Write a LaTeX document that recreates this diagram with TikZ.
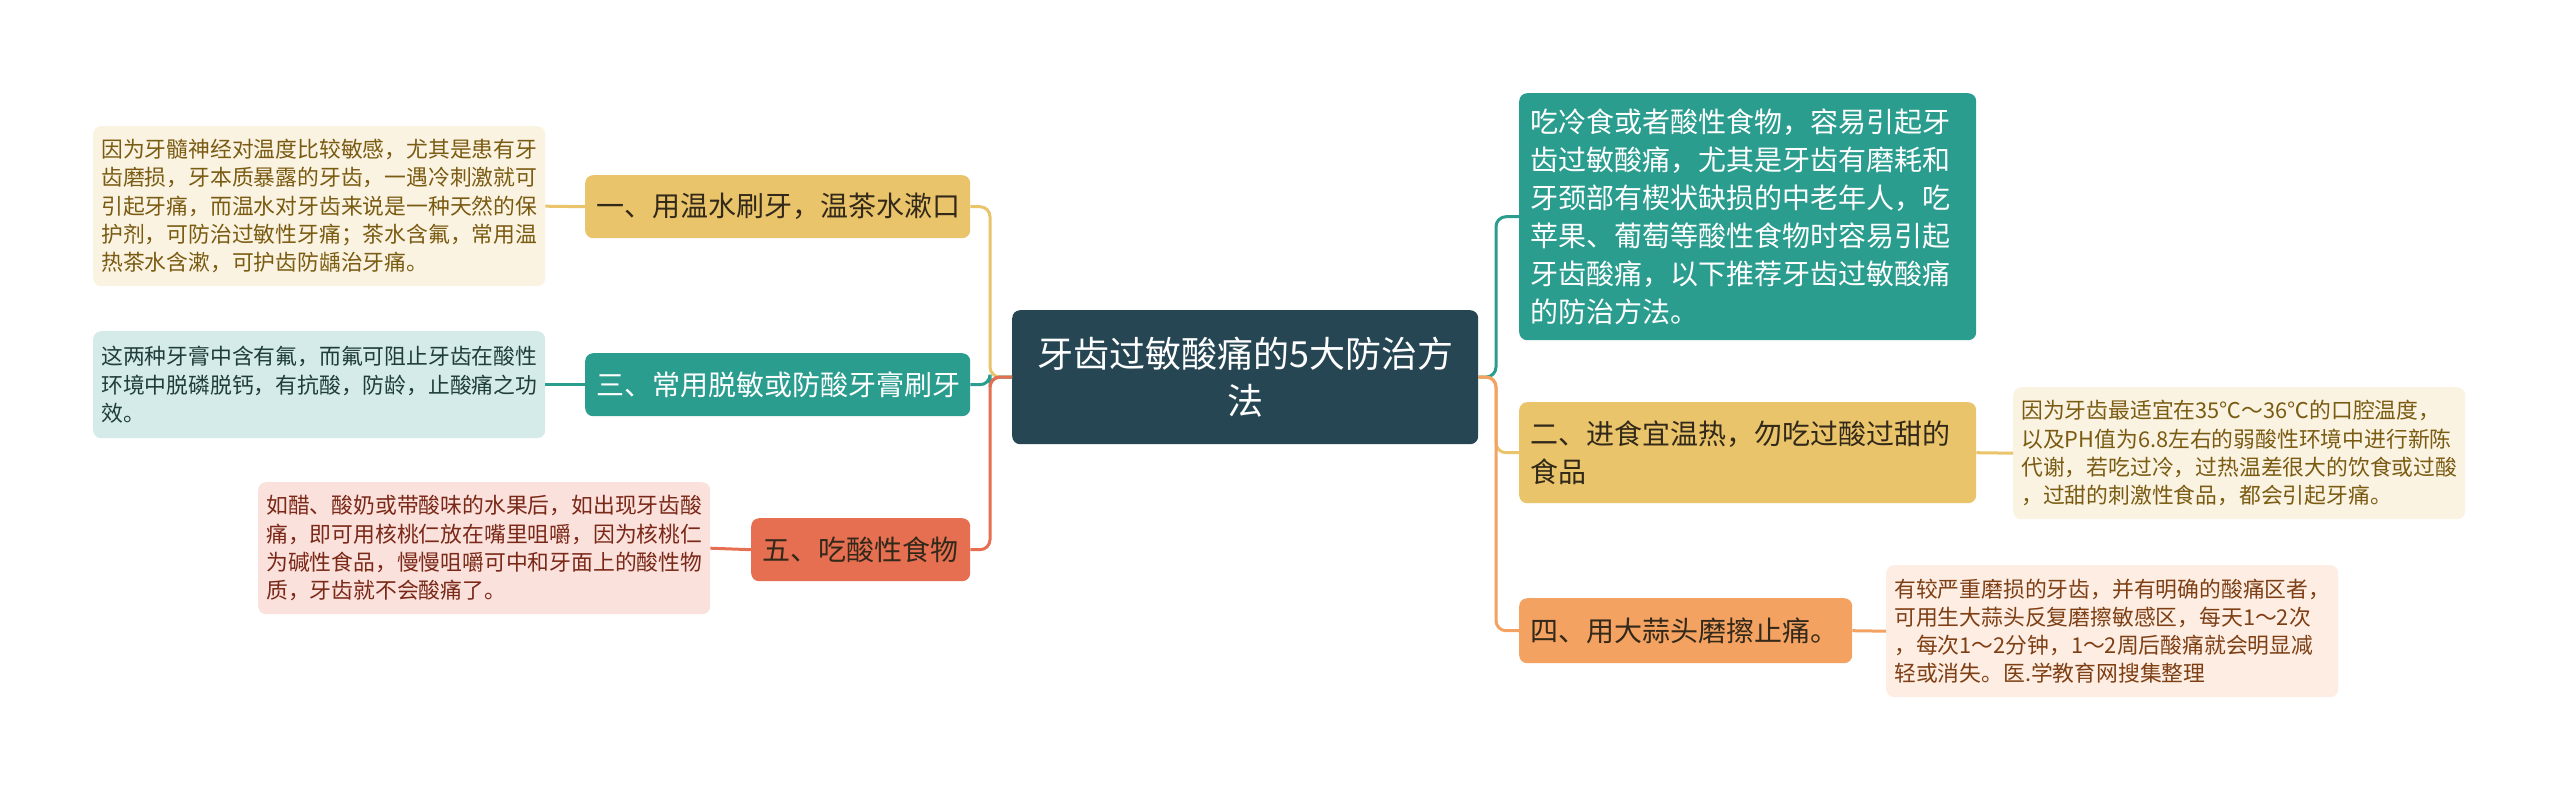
\documentclass[tikz,border=0pt]{standalone}
\usepackage{fontspec}
\setmainfont{Noto Sans CJK SC}
\definecolor{RootClr}{HTML}{264653}
\definecolor{TealClr}{HTML}{2A9D8F}
\definecolor{GoldClr}{HTML}{E9C46A}
\definecolor{OrangeClr}{HTML}{F4A261}
\definecolor{RedClr}{HTML}{E76F51}
\definecolor{GoldLeafClr}{HTML}{FBF3E2}
\definecolor{TealLeafClr}{HTML}{D5EBE9}
\definecolor{RedLeafClr}{HTML}{FAE1DC}
\definecolor{OrangeLeafClr}{HTML}{FDEDE2}
\definecolor{GoldTxtClr}{HTML}{7A5B12}
\definecolor{TealTxtClr}{HTML}{1F3D3A}
\definecolor{RedTxtClr}{HTML}{7A2818}
\definecolor{OrangeTxtClr}{HTML}{7E3F15}
\definecolor{DarkTxtClr}{HTML}{33291A}

\tikzset{
  topic/.style={rounded corners=8pt, anchor=north west, inner xsep=11pt, inner ysep=0pt, align=left, font=\fontsize{28}{38}\selectfont},
  leaf/.style={rounded corners=8pt, anchor=north west, inner xsep=8pt, inner ysep=0pt, align=left, text width=436pt, font=\fontsize{21.8}{28.3}\selectfont},
  link/.style={line width=3pt, rounded corners=10pt},
}

\begin{document}
\begin{tikzpicture}[x=1pt,y=-1pt]
\useasboundingbox[fill=white] (0,0) rectangle (2560,790);

\node[topic, fill=RootClr, text=white, align=center, inner xsep=20pt, text width=426pt, minimum height=134pt, font=\fontsize{36}{47}\selectfont] (root) at (1012,310) {牙齿过敏酸痛的5大防治方\\法};

\node[topic, fill=GoldClr, text=DarkTxtClr, text width=363pt, minimum height=63pt] (t1) at (585,175) {一、用温水刷牙，温茶水漱口};
\node[topic, fill=TealClr, text=white, text width=363pt, minimum height=63pt] (t3) at (585,353) {三、常用脱敏或防酸牙膏刷牙};
\node[topic, fill=RedClr, text=DarkTxtClr, text width=197pt, minimum height=63pt] (t5) at (751,518) {五、吃酸性食物};

\node[topic, fill=TealClr, text=white, text width=435pt, minimum height=247pt] (t0) at (1519,93) {吃冷食或者酸性食物，容易引起牙\\齿过敏酸痛，尤其是牙齿有磨耗和\\牙颈部有楔状缺损的中老年人，吃\\苹果、葡萄等酸性食物时容易引起\\牙齿酸痛，以下推荐牙齿过敏酸痛\\的防治方法。};
\node[topic, fill=GoldClr, text=DarkTxtClr, text width=435pt, minimum height=101pt] (t2) at (1519,402) {二、进食宜温热，勿吃过酸过甜的\\食品};
\node[topic, fill=OrangeClr, text=DarkTxtClr, text width=311pt, minimum height=65pt] (t4) at (1519,598) {四、用大蒜头磨擦止痛。};

\node[leaf, fill=GoldLeafClr, text=GoldTxtClr, minimum height=160pt] (d1) at (93,126) {因为牙髓神经对温度比较敏感，尤其是患有牙\\齿磨损，牙本质暴露的牙齿，一遇冷刺激就可\\引起牙痛，而温水对牙齿来说是一种天然的保\\护剂，可防治过敏性牙痛；茶水含氟，常用温\\热茶水含漱，可护齿防龋治牙痛。};
\node[leaf, fill=TealLeafClr, text=TealTxtClr, minimum height=107pt] (d3) at (93,331) {这两种牙膏中含有氟，而氟可阻止牙齿在酸性\\环境中脱磷脱钙，有抗酸，防龄，止酸痛之功\\效。};
\node[leaf, fill=RedLeafClr, text=RedTxtClr, minimum height=132pt] (d5) at (258,482) {如醋、酸奶或带酸味的水果后，如出现牙齿酸\\痛，即可用核桃仁放在嘴里咀嚼，因为核桃仁\\为碱性食品，慢慢咀嚼可中和牙面上的酸性物\\质，牙齿就不会酸痛了。};
\node[leaf, fill=GoldLeafClr, text=GoldTxtClr, minimum height=132pt] (d2) at (2013,387) {因为牙齿最适宜在35℃～36℃的口腔温度，\\以及PH值为6.8左右的弱酸性环境中进行新陈\\代谢，若吃过冷，过热温差很大的饮食或过酸\\，过甜的刺激性食品，都会引起牙痛。};
\node[leaf, fill=OrangeLeafClr, text=OrangeTxtClr, minimum height=132pt] (d4) at (1886,565) {有较严重磨损的牙齿，并有明确的酸痛区者，\\可用生大蒜头反复磨擦敏感区，每天1～2次\\，每次1～2分钟，1～2周后酸痛就会明显减\\轻或消失。医.学教育网搜集整理};

\coordinate (jl) at (990,377);
\coordinate (jr) at (1496,377);

\draw[link, GoldClr] (root.west) -- (jl) |- (t1.east);
\draw[link, TealClr] (root.west) -- (jl) |- (t3.east);
\draw[link, RedClr] (root.west) -- (jl) |- (t5.east);
\draw[link, TealClr] (root.east) -- (jr) |- (t0.west);
\draw[link, GoldClr] (root.east) -- (jr) |- (t2.west);
\draw[link, OrangeClr] (root.east) -- (jr) |- (t4.west);

\draw[link, GoldClr] (t1.west) -- (d1.east);
\draw[link, TealClr] (t3.west) -- (d3.east);
\draw[link, RedClr] (t5.west) -- (d5.east);
\draw[link, GoldClr] (t2.east) -- (d2.west);
\draw[link, OrangeClr] (t4.east) -- (d4.west);

\end{tikzpicture}
\end{document}
